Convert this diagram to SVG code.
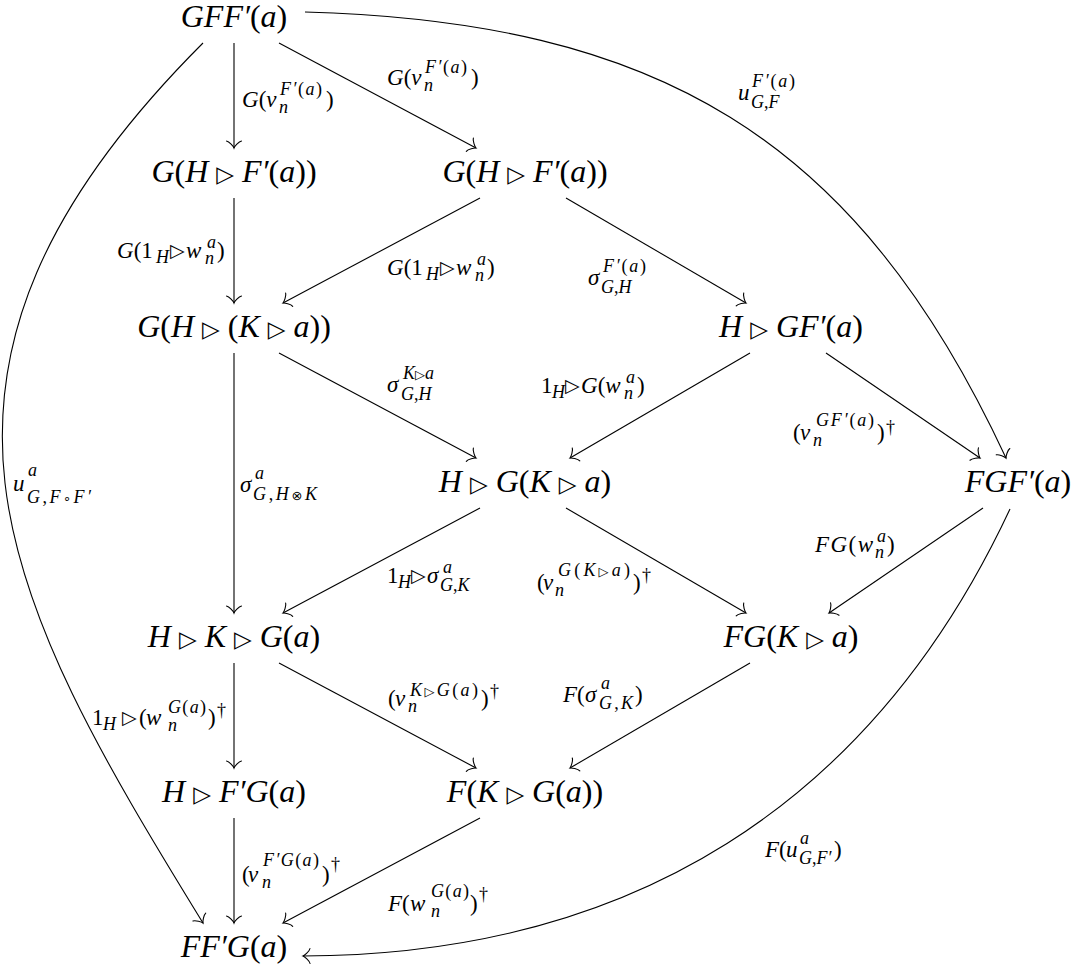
<svg xmlns="http://www.w3.org/2000/svg" width="1078" height="967" viewBox="0 0 1078 967">
<defs>
<style>
.m{font-family:"Liberation Serif",serif;font-style:italic;font-size:32px;fill:#000}
.l{font-family:"Liberation Serif",serif;font-style:italic;font-size:23px;fill:#000}
.s{font-family:"Liberation Serif",serif;font-style:italic;font-size:18px;fill:#000}
.u{font-style:normal}
.t{font-family:"DejaVu Sans",sans-serif;font-style:normal}
.tm{font-size:23px}
.tl{font-size:19px}
.ts{font-size:13px}
.a{fill:none;stroke:#000;stroke-width:1.1;marker-end:url(#ah)}
</style>
<marker id="ah" markerUnits="userSpaceOnUse" orient="auto" overflow="visible" markerWidth="16" markerHeight="16" refX="0" refY="0">
<path d="M-7,-7.5 C-6.5,-4.7 -1.4,-0.5 0,0 C-1.4,0.5 -6.5,4.7 -7,7.5" fill="none" stroke="#000" stroke-width="1.1" stroke-linecap="round"/>
</marker>
</defs>
<rect width="1078" height="967" fill="#fff"/>

<g id="edges">
<path class="a" d="M234,43 V148"/>
<path class="a" d="M279,43 L476,148"/>
<path class="a" d="M305,12 C655,22 855,134 1006,458"/>
<path class="a" d="M203,43 C-124,370 2,596 203,923"/>
<path class="a" d="M234,198 V303"/>
<path class="a" d="M480,198 L283,303"/>
<path class="a" d="M566,198 L746,303"/>
<path class="a" d="M279,353 L476,458"/>
<path class="a" d="M234,353 V613"/>
<path class="a" d="M750,353 L570,458"/>
<path class="a" d="M826,353 L980,458"/>
<path class="a" d="M480,508 L283,613"/>
<path class="a" d="M566,508 L746,613"/>
<path class="a" d="M983,508 L829,613"/>
<path class="a" d="M1010,509 C871,806 630,955 303,956"/>
<path class="a" d="M234,663 V768"/>
<path class="a" d="M279,663 L476,768"/>
<path class="a" d="M750,663 L570,768"/>
<path class="a" d="M234,818 V923"/>
<path class="a" d="M480,818 L283,923"/>
</g>

<g id="n0"><text class="m" x="234" y="27" text-anchor="middle">GFF′<tspan class="u">(</tspan>a<tspan class="u">)</tspan></text></g>
<g id="n1"><text class="m" x="234" y="182" text-anchor="middle">G<tspan class="u">(</tspan>H <tspan class="t tm">▷</tspan> F′<tspan class="u">(</tspan>a<tspan class="u">))</tspan></text></g>
<g id="n2"><text class="m" x="525" y="182" text-anchor="middle">G<tspan class="u">(</tspan>H <tspan class="t tm">▷</tspan> F′<tspan class="u">(</tspan>a<tspan class="u">))</tspan></text></g>
<g id="n3"><text class="m" x="234" y="337" text-anchor="middle">G<tspan class="u">(</tspan>H <tspan class="t tm">▷</tspan> <tspan class="u">(</tspan>K <tspan class="t tm">▷</tspan> a<tspan class="u">))</tspan></text></g>
<g id="n4"><text class="m" x="791" y="337" text-anchor="middle">H <tspan class="t tm">▷</tspan> GF′<tspan class="u">(</tspan>a<tspan class="u">)</tspan></text></g>
<g id="n5"><text class="m" x="525" y="492" text-anchor="middle">H <tspan class="t tm">▷</tspan> G<tspan class="u">(</tspan>K <tspan class="t tm">▷</tspan> a<tspan class="u">)</tspan></text></g>
<g id="n6"><text class="m" x="1018" y="492" text-anchor="middle">FGF′<tspan class="u">(</tspan>a<tspan class="u">)</tspan></text></g>
<g id="n7"><text class="m" x="234" y="647" text-anchor="middle">H <tspan class="t tm">▷</tspan> K <tspan class="t tm">▷</tspan> G<tspan class="u">(</tspan>a<tspan class="u">)</tspan></text></g>
<g id="n8"><text class="m" x="791" y="647" text-anchor="middle">FG<tspan class="u">(</tspan>K <tspan class="t tm">▷</tspan> a<tspan class="u">)</tspan></text></g>
<g id="n9"><text class="m" x="234" y="802" text-anchor="middle">H <tspan class="t tm">▷</tspan> F′G<tspan class="u">(</tspan>a<tspan class="u">)</tspan></text></g>
<g id="n10"><text class="m" x="525" y="802" text-anchor="middle">F<tspan class="u">(</tspan>K <tspan class="t tm">▷</tspan> G<tspan class="u">(</tspan>a<tspan class="u">))</tspan></text></g>
<g id="n11"><text class="m" x="234" y="957" text-anchor="middle">FF′G<tspan class="u">(</tspan>a<tspan class="u">)</tspan></text></g>

<g id="labels">
<!-- L1 -->
<text class="l" x="242" y="107">G<tspan class="u">(</tspan>v</text>
<text class="s" x="280" y="95" textLength="42">F′<tspan class="u">(</tspan>a<tspan class="u">)</tspan></text>
<text class="s" x="279" y="113">n</text>
<text class="l u" x="326" y="107">)</text>
<!-- L2 -->
<text class="l" x="387" y="85">G<tspan class="u">(</tspan>v</text>
<text class="s" x="425" y="73" textLength="42">F′<tspan class="u">(</tspan>a<tspan class="u">)</tspan></text>
<text class="s" x="424" y="91">n</text>
<text class="l u" x="471" y="85">)</text>
<!-- L3 -->
<text class="l" x="738" y="100">u</text>
<text class="s" x="752" y="87" textLength="43">F′<tspan class="u">(</tspan>a<tspan class="u">)</tspan></text>
<text class="s" x="751" y="108">G<tspan class="u">,</tspan>F</text>
<!-- L4 -->
<text class="l" x="117" y="258">G<tspan class="u">(1</tspan></text>
<text class="s" x="156" y="263">H</text>
<text class="t tl" x="170" y="257">▷</text>
<text class="l" x="186" y="258">w</text>
<text class="s" x="207" y="248">a</text>
<text class="s" x="205" y="264">n</text>
<text class="l u" x="217" y="258">)</text>
<!-- L5 -->
<text class="l" x="387" y="275">G<tspan class="u">(1</tspan></text>
<text class="s" x="426" y="280">H</text>
<text class="t tl" x="440" y="274">▷</text>
<text class="l" x="456" y="275">w</text>
<text class="s" x="477" y="265">a</text>
<text class="s" x="475" y="281">n</text>
<text class="l u" x="487" y="275">)</text>
<!-- L6 -->
<text class="l" x="588" y="285">σ</text>
<text class="s" x="603" y="272" textLength="43">F′<tspan class="u">(</tspan>a<tspan class="u">)</tspan></text>
<text class="s" x="601" y="293">G<tspan class="u">,</tspan>H</text>
<!-- L7 -->
<text class="l" x="387" y="392">σ</text>
<text class="s" x="403" y="379">K<tspan class="t ts">▷</tspan>a</text>
<text class="s" x="401" y="400">G<tspan class="u">,</tspan>H</text>
<!-- L8 -->
<text class="l u" x="541" y="393">1</text>
<text class="s" x="552" y="398">H</text>
<text class="t tl" x="565" y="392">▷</text>
<text class="l" x="581" y="393">G<tspan class="u">(</tspan>w</text>
<text class="s" x="626" y="383">a</text>
<text class="s" x="624" y="399">n</text>
<text class="l u" x="637" y="393">)</text>
<!-- L9 -->
<text class="l" x="240" y="492">σ</text>
<text class="s" x="255" y="479">a</text>
<text class="s" x="253" y="500" textLength="64">G<tspan class="u">,</tspan>H<tspan class="t ts">⊗</tspan>K</text>
<!-- L10 -->
<text class="l" x="13" y="491">u</text>
<text class="s" x="28" y="476">a</text>
<text class="s" x="27" y="503" textLength="64">G<tspan class="u">,</tspan>F<tspan class="t ts">∘</tspan>F′</text>
<!-- L11 -->
<text class="l u" x="793" y="440">(</text>
<text class="l" x="800" y="440">v</text>
<text class="s" x="816" y="426" textLength="58">GF′<tspan class="u">(</tspan>a<tspan class="u">)</tspan></text>
<text class="s" x="813" y="446">n</text>
<text class="l u" x="877" y="440">)</text>
<text class="s u" x="886" y="433">†</text>
<!-- L12 -->
<text class="l" x="815" y="552" textLength="58">FG<tspan class="u">(</tspan>w</text>
<text class="s" x="877" y="542">a</text>
<text class="s" x="875" y="558">n</text>
<text class="l u" x="887" y="552">)</text>
<!-- L13 -->
<text class="l u" x="387" y="583">1</text>
<text class="s" x="398" y="588">H</text>
<text class="t tl" x="411" y="582">▷</text>
<text class="l" x="427" y="583">σ</text>
<text class="s" x="443" y="573">a</text>
<text class="s" x="440" y="591">G<tspan class="u">,</tspan>K</text>
<!-- L14 -->
<text class="l u" x="537" y="590">(</text>
<text class="l" x="543" y="590">v</text>
<text class="s" x="558" y="576" textLength="72">G<tspan class="u">(</tspan>K<tspan class="t ts">▷</tspan>a<tspan class="u">)</tspan></text>
<text class="s" x="555" y="596">n</text>
<text class="l u" x="633" y="590">)</text>
<text class="s u" x="642" y="581">†</text>
<!-- L15 -->
<text class="l u" x="92" y="725">1</text>
<text class="s" x="103" y="730">H</text>
<text class="t tl" x="122" y="724">▷</text>
<text class="l u" x="139" y="725">(</text>
<text class="l" x="146" y="725">w</text>
<text class="s" x="168" y="713" textLength="38">G<tspan class="u">(</tspan>a<tspan class="u">)</tspan></text>
<text class="s" x="168" y="731">n</text>
<text class="l u" x="208" y="725">)</text>
<text class="s u" x="217" y="716">†</text>
<!-- L16 -->
<text class="l u" x="388" y="706">(</text>
<text class="l" x="395" y="706">v</text>
<text class="s" x="410" y="696" textLength="68">K<tspan class="t ts">▷</tspan>G<tspan class="u">(</tspan>a<tspan class="u">)</tspan></text>
<text class="s" x="408" y="712">n</text>
<text class="l u" x="481" y="706">)</text>
<text class="s u" x="490" y="697">†</text>
<!-- L17 -->
<text class="l" x="563" y="702">F<tspan class="u">(</tspan></text>
<text class="l" x="585" y="702">σ</text>
<text class="s" x="601" y="689">a</text>
<text class="s" x="599" y="709" textLength="34">G<tspan class="u">,</tspan>K</text>
<text class="l u" x="635" y="702">)</text>
<!-- L18 -->
<text class="l u" x="242" y="882">(</text>
<text class="l" x="248" y="882">v</text>
<text class="s" x="263" y="866" textLength="56">F′G<tspan class="u">(</tspan>a<tspan class="u">)</tspan></text>
<text class="s" x="262" y="888">n</text>
<text class="l u" x="322" y="882">)</text>
<text class="s u" x="331" y="870">†</text>
<!-- L19 -->
<text class="l" x="388" y="911">F<tspan class="u">(</tspan></text>
<text class="l" x="410" y="911">w</text>
<text class="s" x="431" y="897" textLength="38">G<tspan class="u">(</tspan>a<tspan class="u">)</tspan></text>
<text class="s" x="431" y="917">n</text>
<text class="l u" x="470" y="911">)</text>
<text class="s u" x="479" y="900">†</text>
<!-- L20 -->
<text class="l" x="765" y="857">F<tspan class="u">(</tspan></text>
<text class="l" x="786" y="857">u</text>
<text class="s" x="800" y="844">a</text>
<text class="s" x="799" y="864">G<tspan class="u">,</tspan>F′</text>
<text class="l u" x="834" y="857">)</text>
</g>
</svg>
